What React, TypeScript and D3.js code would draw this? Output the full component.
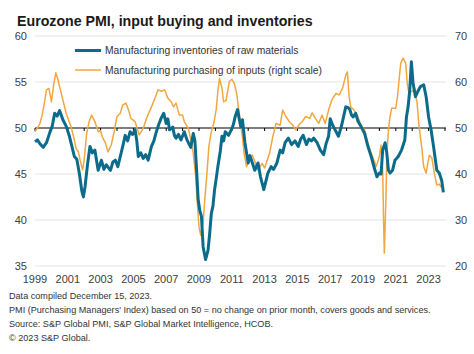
import React from 'react';
import * as d3 from 'd3';

// Manufacturing inventories of raw materials (left scale), decimal year
const invTime = [
  1999.0, 1999.15, 1999.3, 1999.5, 1999.7, 1999.9, 2000.05, 2000.2, 2000.35, 2000.5, 2000.7, 2000.9,
  2001.1, 2001.25, 2001.4, 2001.55, 2001.7, 2001.85, 2001.95, 2002.05, 2002.2, 2002.35, 2002.5, 2002.65,
  2002.85, 2003.05, 2003.2, 2003.35, 2003.6, 2003.75, 2003.9, 2004.05, 2004.2, 2004.35, 2004.5, 2004.65,
  2004.8, 2004.95, 2005.1, 2005.2, 2005.3, 2005.45, 2005.6, 2005.75, 2005.9, 2006.1, 2006.25, 2006.4,
  2006.55, 2006.7, 2006.85, 2007.0, 2007.1, 2007.2, 2007.4, 2007.5, 2007.6, 2007.75, 2007.9, 2008.1,
  2008.25, 2008.35, 2008.5, 2008.65, 2008.75, 2008.85, 2008.95, 2009.05, 2009.15, 2009.25, 2009.4, 2009.55,
  2009.65, 2009.75, 2009.85, 2009.95, 2010.05, 2010.15, 2010.3, 2010.4, 2010.5, 2010.6, 2010.8, 2011.0,
  2011.1, 2011.2, 2011.35, 2011.45, 2011.55, 2011.65, 2011.8, 2012.0, 2012.1, 2012.2, 2012.4, 2012.6,
  2012.75, 2012.95, 2013.05, 2013.2, 2013.4, 2013.55, 2013.75, 2013.95, 2014.1, 2014.25, 2014.45, 2014.65,
  2014.85, 2015.05, 2015.2, 2015.35, 2015.55, 2015.7, 2015.85, 2016.0, 2016.2, 2016.4, 2016.6, 2016.75,
  2016.9, 2017.0, 2017.15, 2017.3, 2017.5, 2017.7, 2017.85, 2017.95, 2018.1, 2018.2, 2018.3, 2018.4,
  2018.55, 2018.7, 2018.9, 2019.1, 2019.3, 2019.5, 2019.7, 2019.85, 2020.0, 2020.1, 2020.2, 2020.35,
  2020.45, 2020.55, 2020.65, 2020.8, 2020.95, 2021.15, 2021.35, 2021.55, 2021.65, 2021.75, 2021.85, 2021.95,
  2022.05, 2022.2, 2022.35, 2022.5, 2022.7, 2022.85, 2023.0, 2023.15, 2023.3, 2023.5, 2023.65, 2023.8,
  2023.9,
];
const invValues = [
  48.5, 48.7, 48.3, 47.9, 48.4, 49.5, 50.2, 51.6, 51.3, 51.9, 50.9, 50.2,
  49.1, 48.0, 46.9, 46.6, 45.1, 43.2, 42.5, 43.6, 46.0, 48.0, 47.3, 47.6,
  45.4, 46.5, 45.5, 46.0, 45.4, 46.3, 46.5, 45.8, 46.9, 48.0, 49.2, 48.6,
  49.6, 49.3, 49.8, 48.7, 46.9, 47.3, 46.7, 47.1, 46.5, 48.0, 48.6, 49.6,
  50.4, 51.1, 51.6, 50.5, 51.0, 49.8, 50.1, 49.2, 48.9, 49.3, 48.7, 49.6,
  48.8, 48.4, 47.9, 49.4, 48.6, 45.5, 42.2, 41.0, 40.4, 37.1, 35.7, 36.7,
  38.5, 40.7, 41.5, 43.3, 44.5, 45.8, 47.5, 49.1, 48.6, 49.6, 49.2, 49.9,
  50.4, 51.2, 52.0, 51.0, 50.1, 50.9, 48.4, 46.2, 47.0, 46.5, 45.4, 46.2,
  44.7, 43.3, 44.0, 45.1, 45.8, 45.5, 46.2, 47.6, 47.3, 48.4, 48.9, 48.2,
  48.6, 48.0, 48.8, 49.2, 48.2, 48.8, 48.6, 48.9, 48.4, 47.6, 47.1, 48.3,
  49.1, 51.0, 50.3, 49.8, 49.1, 50.3, 51.5, 52.3, 52.2, 52.0, 51.4, 51.2,
  51.6, 50.7, 50.1, 49.4, 48.0, 46.9, 45.6, 44.7, 45.1, 45.0, 47.6, 48.4,
  47.3, 45.4, 45.1, 45.4, 46.5, 46.9, 47.6, 48.7, 51.2, 52.3, 54.1, 57.2,
  54.9, 53.4, 54.0, 54.5, 54.7, 53.4, 51.2, 49.8, 48.0, 45.4, 45.1, 44.3,
  43.0,
];

// Manufacturing purchasing of inputs (right scale), decimal year
const purTime = [
  1999.0, 1999.15, 1999.3, 1999.45, 1999.6, 1999.7, 1999.85, 2000.0, 2000.15, 2000.27, 2000.4, 2000.5,
  2000.7, 2000.9, 2001.05, 2001.2, 2001.4, 2001.5, 2001.65, 2001.75, 2001.9, 2002.0, 2002.15, 2002.3,
  2002.45, 2002.65, 2002.85, 2003.0, 2003.1, 2003.3, 2003.45, 2003.65, 2003.85, 2004.0, 2004.2, 2004.35,
  2004.55, 2004.7, 2004.85, 2005.1, 2005.35, 2005.6, 2005.8, 2006.1, 2006.35, 2006.5, 2006.7, 2006.9,
  2007.1, 2007.3, 2007.45, 2007.6, 2007.8, 2008.0, 2008.1, 2008.35, 2008.5, 2008.65, 2008.8, 2008.9,
  2009.0, 2009.1, 2009.25, 2009.35, 2009.5, 2009.6, 2009.75, 2009.9, 2010.05, 2010.15, 2010.25, 2010.4,
  2010.5, 2010.65, 2010.85, 2011.0, 2011.15, 2011.3, 2011.4, 2011.55, 2011.65, 2011.75, 2011.9, 2012.05,
  2012.25, 2012.45, 2012.6, 2012.85, 2013.0, 2013.3, 2013.5, 2013.7, 2013.95, 2014.1, 2014.3, 2014.5,
  2014.7, 2014.9, 2015.1, 2015.3, 2015.5, 2015.75, 2015.9, 2016.1, 2016.3, 2016.5, 2016.7, 2016.9,
  2017.1, 2017.35, 2017.55, 2017.75, 2017.95, 2018.05, 2018.15, 2018.25, 2018.45, 2018.65, 2018.9, 2019.1,
  2019.3, 2019.5, 2019.7, 2019.8, 2020.0, 2020.1, 2020.2, 2020.25, 2020.3, 2020.4, 2020.45, 2020.55,
  2020.65, 2020.75, 2021.0, 2021.1, 2021.2, 2021.3, 2021.45, 2021.6, 2021.7, 2021.8, 2022.0, 2022.15,
  2022.3, 2022.4, 2022.5, 2022.6, 2022.7, 2022.85, 2022.95, 2023.05, 2023.2, 2023.35, 2023.5, 2023.65,
  2023.75, 2023.85,
];
const purValues = [
  49.2, 50.0, 51.0, 53.0, 56.0, 58.3, 58.6, 55.7, 59.7, 62.0, 60.5, 59.0,
  56.1, 53.2, 51.7, 50.3, 47.4, 45.6, 44.8, 43.0, 40.9, 43.0, 48.8, 51.4,
  52.8, 51.4, 49.2, 49.4, 48.1, 46.7, 44.8, 46.3, 49.6, 52.5, 53.2, 55.0,
  55.4, 53.9, 52.1, 51.4, 48.5, 49.9, 52.1, 54.6, 56.8, 58.3, 58.0, 58.3,
  56.5, 55.7, 54.6, 55.4, 52.8, 52.8, 51.4, 49.9, 47.4, 44.5, 39.4, 33.6,
  28.5, 26.7, 29.3, 34.3, 40.9, 45.9, 49.2, 51.0, 54.0, 58.0, 60.8, 58.6,
  55.7, 56.0, 60.1, 60.6, 59.7, 57.5, 54.6, 50.5, 48.1, 44.5, 41.6, 43.0,
  44.1, 42.3, 40.9, 42.3, 41.3, 44.5, 48.1, 51.0, 50.6, 53.9, 52.5, 51.4,
  50.7, 49.6, 50.7, 51.4, 52.5, 52.1, 53.3, 52.1, 51.0, 52.8, 51.0, 53.9,
  56.1, 57.5, 57.2, 58.6, 61.5, 62.2, 57.0, 54.6, 53.9, 52.8, 50.3, 49.6,
  46.7, 44.5, 42.7, 41.6, 43.8, 46.3, 40.9, 30.7, 22.8, 35.0, 43.8, 49.6,
  52.5, 54.3, 54.3, 56.8, 60.4, 64.1, 65.2, 64.1, 59.7, 57.5, 58.0, 58.6,
  55.4, 51.0, 48.1, 45.2, 41.6, 40.2, 42.3, 44.1, 43.5, 40.2, 37.6, 37.8,
  37.2, 38.5,
];

const leftTicks = [35, 40, 45, 50, 55, 60];
const rightTicks = [20, 30, 40, 50, 60, 70];
const yearLabels = [1999, 2001, 2003, 2005, 2007, 2009, 2011, 2013, 2015, 2017, 2019, 2021, 2023];
const yearTicks = d3.range(1999, 2025);
const seriesNames = [
  'Manufacturing inventories of raw materials',
  'Manufacturing purchasing of inputs (right scale)',
];
const footnotes = [
  'Data compiled December 15, 2023.',
  "PMI (Purchasing Managers' Index) based on 50 = no change on prior month, covers goods and services.",
  'Source: S&P Global PMI, S&P Global Market Intelligence, HCOB.',
  '\u00a9 2023 S&P Global.',
];

const TEAL = '#0b6b8a';
const ORANGE = '#f2a640';
const FONT = '"Liberation Sans", Arial, sans-serif';

export default function App() {
  const width = 474;
  const height = 354;
  const margin = { top: 36, right: 28, bottom: 88, left: 35 };
  const plotRight = width - margin.right;
  const plotBottom = height - margin.bottom;

  const x = d3.scaleLinear().domain([1999, 2024]).range([margin.left, plotRight - 1]);
  const yLeft = d3.scaleLinear().domain([35, 60]).range([plotBottom, margin.top]);
  const yRight = d3.scaleLinear().domain([20, 70]).range([plotBottom, margin.top]);

  const invLine = d3.line<number>()
    .x((_, i) => x(invTime[i]))
    .y(d => yLeft(d));
  const purLine = d3.line<number>()
    .x((_, i) => x(purTime[i]))
    .y(d => yRight(d));

  const axisY = yLeft(50);

  return (
    <svg width={width} height={height} style={{ position: 'absolute', left: 0, top: 0, background: '#fff' }}
      fontFamily={FONT}>
      <text x={17} y={26} fontSize={14.2} fontWeight="bold" fill="#1a1a1a">
        Eurozone PMI, input buying and inventories
      </text>

      {/* gridlines */}
      {leftTicks.filter(t => t !== 50).map(t => (
        <line key={t} x1={margin.left} x2={plotRight} y1={yLeft(t)} y2={yLeft(t)} stroke="#e3e3e3" strokeWidth={1} />
      ))}

      {/* left axis labels */}
      {leftTicks.map(t => (
        <text key={t} x={27} y={yLeft(t) + 4} fontSize={11} textAnchor="end" fill="#404040">{t}</text>
      ))}
      {/* right axis labels */}
      {rightTicks.map(t => (
        <text key={t} x={455} y={yRight(t) + 4} fontSize={11} textAnchor="start" fill="#404040">{t}</text>
      ))}

      {/* 50 line with year ticks */}
      <line x1={margin.left} x2={plotRight} y1={axisY} y2={axisY} stroke="#000" strokeWidth={1.2} />
      {yearTicks.map(t => (
        <line key={t} x1={x(t)} x2={x(t)} y1={axisY} y2={axisY + 3} stroke="#000" strokeWidth={1} />
      ))}

      {/* year labels */}
      {yearLabels.map(t => (
        <text key={t} x={x(t)} y={283} fontSize={11} textAnchor="middle" fill="#404040">{t}</text>
      ))}

      <path d={purLine(purValues) ?? ''} fill="none" stroke={ORANGE} strokeWidth={1.5} strokeLinejoin="round" />
      <path d={invLine(invValues) ?? ''} fill="none" stroke={TEAL} strokeWidth={3} strokeLinejoin="round" />

      {/* legend */}
      <line x1={75} x2={101} y1={50.5} y2={50.5} stroke={TEAL} strokeWidth={3} />
      <text x={105} y={54.2} fontSize={10.3} fill="#333">{seriesNames[0]}</text>
      <line x1={75} x2={101} y1={70} y2={70} stroke={ORANGE} strokeWidth={1.5} />
      <text x={105} y={73.7} fontSize={10.3} fill="#333">{seriesNames[1]}</text>

      {/* footnotes */}
      {footnotes.map((f, i) => (
        <text key={i} x={9} y={299 + i * 14} fontSize={9.1} fill="#333">{f}</text>
      ))}
    </svg>
  );
}
